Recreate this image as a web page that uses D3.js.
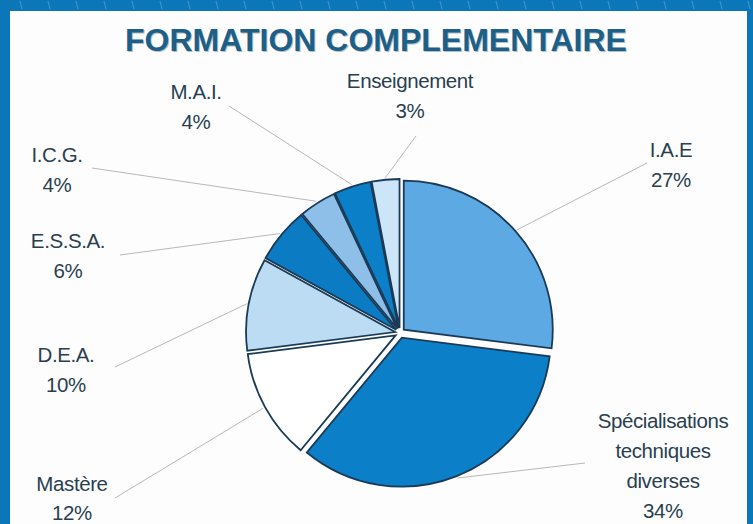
<!DOCTYPE html>
<html>
<head>
<meta charset="utf-8">
<script src="https://cdn.jsdelivr.net/npm/d3@7/dist/d3.min.js"></script>
<style>
html,body{margin:0;padding:0;background:#0b77b9;}
svg{display:block;}
</style>
</head>
<body>
<svg id="chart" width="753" height="524"></svg>
<script>
// ---- data ----
const title = "FORMATION COMPLEMENTAIRE";
const categories = ["I.A.E.", "Spécialisations techniques diverses", "Mastère", "D.E.A.", "E.S.S.A.", "I.C.G.", "M.A.I.", "Enseignement"];
const labelLines = [["I.A.E"], ["Spécialisations", "techniques", "diverses"], ["Mastère"], ["D.E.A."], ["E.S.S.A."], ["I.C.G."], ["M.A.I."], ["Enseignement"]];
const values = [27, 34, 12, 10, 6, 4, 4, 3];
const colors = ["#5da9e4", "#0b80c9", "#ffffff", "#bcdcf4", "#0b7cc4", "#8dbfe9", "#0b7fc7", "#cde5f8"];

// ---- layout (label anchors: centre x, first baseline, leader start) ----
const labelPos = [
  {x: 671, y: 157, lx: 647, ly: 163},
  {x: 663, y: 428, lx: 585, ly: 463},
  {x: 72,  y: 491, lx: 115, ly: 498},
  {x: 66,  y: 362, lx: 115, ly: 367},
  {x: 68,  y: 248, lx: 120, ly: 255},
  {x: 57,  y: 162, lx: 92,  ly: 168},
  {x: 196, y: 99,  lx: 229, ly: 106},
  {x: 410, y: 88,  lx: 416, ly: 136}
];

const W = 753, H = 524;
const svg = d3.select("#chart");

// frame
svg.append("rect").attr("x", 0).attr("y", 0).attr("width", W).attr("height", H).attr("fill", "#0b77b9");
const dashX = d3.range(20, W, 28);
svg.append("g").selectAll("line").data(dashX).join("line")
  .attr("x1", d => d).attr("x2", d => d + 2).attr("y1", 1).attr("y2", 9)
  .attr("stroke", "#5aa8d8").attr("stroke-width", 1.2).attr("opacity", 0.6);
svg.append("rect").attr("x", 10).attr("y", 11).attr("width", 737).attr("height", H - 11).attr("fill", "#fdfdfd");

// title
const titleG = svg.append("g");
titleG.append("text").attr("x", 376).attr("y", 51).attr("text-anchor", "middle")
  .attr("font-family", "Liberation Sans, Arial, sans-serif").attr("font-weight", "bold").attr("font-size", 32)
  .attr("fill", "#0d3550").attr("opacity", 0.3).attr("transform", "translate(1,1)").text(title);
titleG.append("text").attr("x", 376).attr("y", 51).attr("text-anchor", "middle")
  .attr("font-family", "Liberation Sans, Arial, sans-serif").attr("font-weight", "bold").attr("font-size", 32)
  .attr("fill", "#1d5f86").text(title);

// pie
const cx = 400, cy = 333, R = 149, explode = 5;
const pie = d3.pie().sort(null).value(d => d).startAngle(0).endAngle(2 * Math.PI);
const arcs = pie(values);
const arc = d3.arc().innerRadius(0).outerRadius(R);
const g = svg.append("g").attr("transform", `translate(${cx},${cy})`);

const mid = d => (d.startAngle + d.endAngle) / 2;
const polar = (a, r) => [Math.sin(a) * r, -Math.cos(a) * r];

// leader lines
svg.append("g").selectAll("line").data(arcs).join("line")
  .attr("x1", (d, i) => labelPos[i].lx).attr("y1", (d, i) => labelPos[i].ly)
  .attr("x2", d => cx + polar(mid(d), R + 7)[0])
  .attr("y2", d => cy + polar(mid(d), R + 7)[1])
  .attr("stroke", "#b8b8b8").attr("stroke-width", 1);

g.selectAll("path").data(arcs).join("path")
  .attr("d", arc)
  .attr("transform", d => { const p = polar(mid(d), explode); return `translate(${p[0]},${p[1]})`; })
  .attr("fill", (d, i) => colors[i])
  .attr("stroke", "#1a3a56").attr("stroke-width", 1.8).attr("stroke-linejoin", "miter");

// labels
const lab = svg.append("g").attr("font-family", "Liberation Sans, Arial, sans-serif").attr("font-size", 20.5)
  .attr("letter-spacing", -0.4).attr("fill", "#293f50");
arcs.forEach((d, i) => {
  const lines = labelLines[i].concat([values[i] + "%"]);
  const t = lab.append("text").attr("text-anchor", "middle");
  lines.forEach((s, k) => {
    t.append("tspan").attr("x", labelPos[i].x).attr("y", labelPos[i].y + k * (i === 2 ? 29 : 30)).text(s);
  });
});
</script>
</body>
</html>
